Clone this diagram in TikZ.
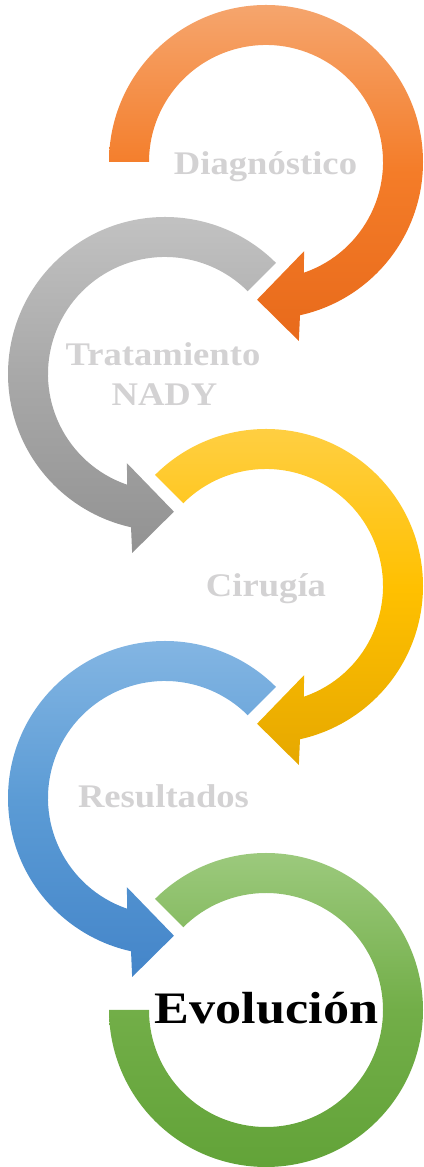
\documentclass[tikz,border=0pt]{standalone}
\usepackage{fontspec}
\setmainfont{Liberation Serif}
\begin{document}
\begin{tikzpicture}[x=1pt,y=1pt,
  label/.style={font=\bfseries\fontsize{33}{40}\selectfont, text=labelgray,
    inner sep=0pt, anchor=base, xscale=1.11, transform shape},
  finallabel/.style={font=\bfseries\fontsize{45}{54}\selectfont, text=black,
    inner sep=0pt, anchor=base, xscale=1.16, transform shape}]
\definecolor{labelgray}{HTML}{D3D2D3}
\definecolor{orangeT}{HTML}{F5A56D}\definecolor{orangeM}{HTML}{F47C28}\definecolor{orangeB}{HTML}{E86A1B}
\definecolor{grayT}{HTML}{C4C4C4}\definecolor{grayM}{HTML}{A8A8A8}\definecolor{grayB}{HTML}{929292}
\definecolor{yellowT}{HTML}{FFD048}\definecolor{yellowM}{HTML}{FFC000}\definecolor{yellowB}{HTML}{E6A800}
\definecolor{blueT}{HTML}{87B8E4}\definecolor{blueM}{HTML}{5B9BD5}\definecolor{blueB}{HTML}{4485C9}
\definecolor{greenT}{HTML}{A0CC82}\definecolor{greenM}{HTML}{72AE48}\definecolor{greenB}{HTML}{61A237}
\useasboundingbox (0,0) rectangle (423,1167);
% circular arrow: ring from #1 (clockwise) ending in a head
\newcommand\ringarrow[1]{%
  (#1:157) arc[start angle=#1, end angle=-77.5, radius=157]
  -- (-79.6:182) -- (-93.7:138) -- (-66.9:97) -- (-71.1:117)
  arc[start angle=-71.1, end angle=#1, radius=117] -- cycle}
% step 1
\begin{scope}[shift={(266,1005)}]
  \shade[top color=orangeT, bottom color=orangeB, middle color=orangeM] \ringarrow{180};
\end{scope}
% step 2 (mirrored)
\begin{scope}[shift={(165,793)}, xscale=-1]
  \shade[top color=grayT, bottom color=grayB, middle color=grayM] \ringarrow{135};
\end{scope}
% step 3
\begin{scope}[shift={(266,581)}]
  \shade[top color=yellowT, bottom color=yellowB, middle color=yellowM] \ringarrow{135};
\end{scope}
% step 4 (mirrored)
\begin{scope}[shift={(165,369)}, xscale=-1]
  \shade[top color=blueT, bottom color=blueB, middle color=blueM] \ringarrow{135};
\end{scope}
% step 5: open ring without head
\begin{scope}[shift={(266,157)}]
  \shade[top color=greenT, bottom color=greenB, middle color=greenM]
    (135:157) arc[start angle=135, end angle=-180, radius=157]
    -- (180:117) arc[start angle=-180, end angle=135, radius=117] -- cycle;
\end{scope}
% labels
\node[label] (diag) at (265.5,992) {Diagnóstico};
\node[label] (trat) at (163,801) {Tratamiento};
\node[label] (nady) at (164.5,761) {NADY};
\node[label] (ciru) at (266,570) {Cirugía};
\node[label] (resu) at (163.5,359) {Resultados};
\node[finallabel] (evol) at (266.5,143) {Evolución};
\end{tikzpicture}
\end{document}
